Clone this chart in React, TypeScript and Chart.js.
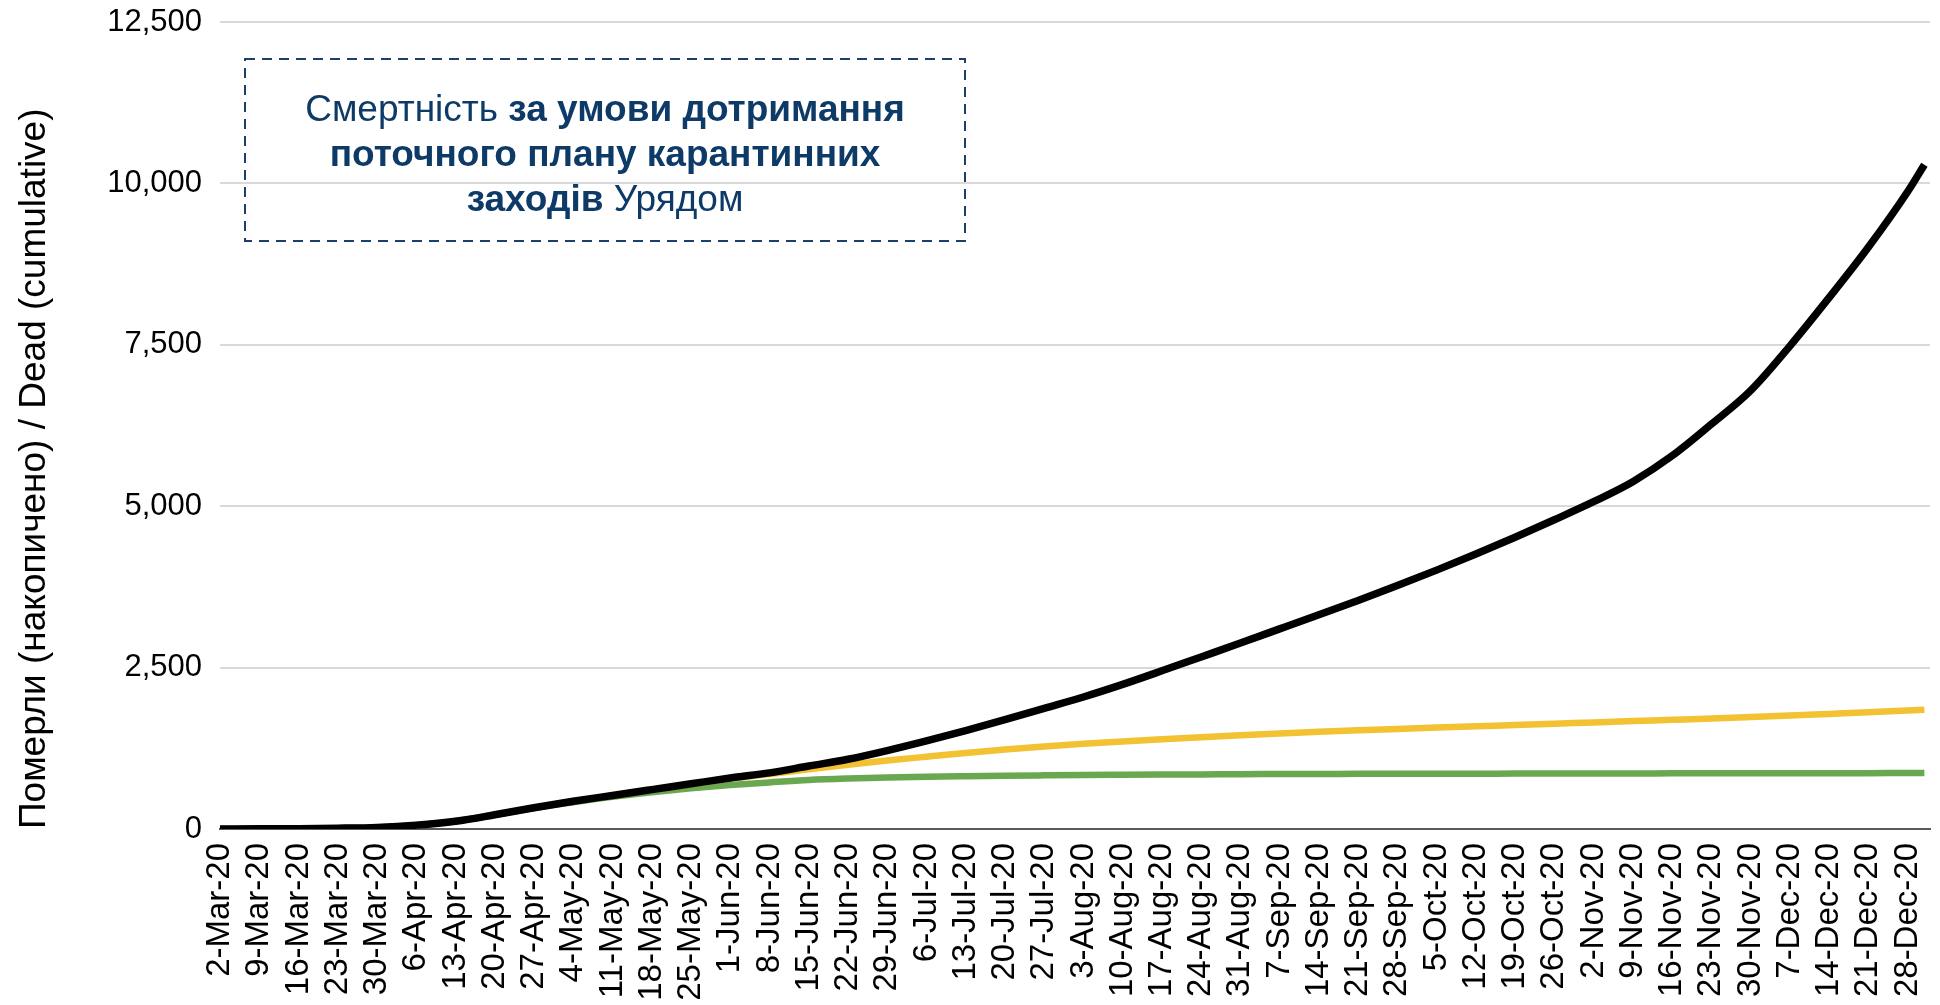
import React, { useEffect, useRef } from 'react';
import { Chart, registerables } from 'chart.js';

Chart.register(...registerables);

// ---- Data ----
const weekLabels = [
  '2-Mar-20', '9-Mar-20', '16-Mar-20', '23-Mar-20', '30-Mar-20',
  '6-Apr-20', '13-Apr-20', '20-Apr-20', '27-Apr-20',
  '4-May-20', '11-May-20', '18-May-20', '25-May-20',
  '1-Jun-20', '8-Jun-20', '15-Jun-20', '22-Jun-20', '29-Jun-20',
  '6-Jul-20', '13-Jul-20', '20-Jul-20', '27-Jul-20',
  '3-Aug-20', '10-Aug-20', '17-Aug-20', '24-Aug-20', '31-Aug-20',
  '7-Sep-20', '14-Sep-20', '21-Sep-20', '28-Sep-20',
  '5-Oct-20', '12-Oct-20', '19-Oct-20', '26-Oct-20',
  '2-Nov-20', '9-Nov-20', '16-Nov-20', '23-Nov-20', '30-Nov-20',
  '7-Dec-20', '14-Dec-20', '21-Dec-20', '28-Dec-20',
];

// Dates at which the series values were read (weekly, plus the last day)
const pointDates = [...weekLabels, '31-Dec-20'];

// Black: deaths if current government quarantine plan is kept
const currentPlanDeaths = [
  0, 2, 5, 12, 25, 60, 120, 220, 330, 430, 520, 610, 700,
  790, 870, 975, 1080, 1215, 1365, 1525, 1695, 1870, 2045, 2240, 2450,
  2665, 2880, 3100, 3320, 3540, 3770, 4010, 4260, 4520, 4790, 5070,
  5380, 5780, 6270, 6790, 7480, 8230, 9010, 9870, 10290,
];

// Yellow scenario
const yellowDeaths = [
  0, 2, 5, 12, 25, 60, 120, 220, 330, 430, 520, 610, 695,
  780, 850, 925, 995, 1060, 1120, 1178, 1230, 1278, 1320, 1357, 1391,
  1423, 1453, 1480, 1505, 1528, 1550, 1571, 1591, 1611, 1631, 1651,
  1671, 1691, 1711, 1734, 1758, 1783, 1808, 1834, 1848,
];

// Green scenario
const greenDeaths = [
  0, 2, 5, 12, 25, 60, 120, 220, 325, 415, 500, 570, 630,
  680, 722, 760, 783, 799, 810, 818, 825, 831, 836, 840, 843,
  846, 849, 851, 853, 854, 855, 856, 857, 858, 859, 860,
  861, 862, 863, 863, 864, 865, 865, 866, 866,
];

const yTickValues = [0, 2500, 5000, 7500, 10000, 12500];
const yAxisTitle = 'Померли (накопичено) / Dead (cumulative)';

const MONTHS: Record<string, number> = {
  Jan: 0, Feb: 1, Mar: 2, Apr: 3, May: 4, Jun: 5,
  Jul: 6, Aug: 7, Sep: 8, Oct: 9, Nov: 10, Dec: 11,
};

function dayIndex(label: string): number {
  const [d, m, y] = label.split('-');
  const t = Date.UTC(2000 + Number(y), MONTHS[m], Number(d));
  const t0 = Date.UTC(2020, 2, 2);
  return Math.round((t - t0) / 86400000);
}

const FONT = "'Liberation Sans', Arial, sans-serif";

const noteBoxPlugin = {
  id: 'noteBox',
  afterDraw(chart: any) {
    const ctx = chart.ctx;
    ctx.save();
    ctx.setLineDash([10, 7]);
    ctx.strokeStyle = '#1d3f6b';
    ctx.lineWidth = 2;
    ctx.strokeRect(245, 59, 720, 182);
    ctx.restore();
  },
};

export default function App() {
  const canvasRef = useRef<HTMLCanvasElement | null>(null);

  useEffect(() => {
    if (!canvasRef.current) return;
    const toPoints = (vals: number[]) =>
      vals.map((v, i) => ({ x: dayIndex(pointDates[i]), y: v }));
    const labelByDay: Record<number, string> = {};
    weekLabels.forEach((l) => { labelByDay[dayIndex(l)] = l; });
    const lastDay = dayIndex(pointDates[pointDates.length - 1]);

    const chart = new Chart(canvasRef.current, {
      type: 'line',
      data: {
        datasets: [
          {
            label: 'Current plan',
            data: toPoints(currentPlanDeaths),
            borderColor: '#000000',
            borderWidth: 7.5,
            pointRadius: 0,
            cubicInterpolationMode: 'monotone',
            borderJoinStyle: 'round',
            fill: false,
          },
          {
            label: 'Yellow',
            data: toPoints(yellowDeaths),
            borderColor: '#f2c233',
            borderWidth: 6.5,
            pointRadius: 0,
            cubicInterpolationMode: 'monotone',
            borderJoinStyle: 'round',
            fill: false,
          },
          {
            label: 'Green',
            data: toPoints(greenDeaths),
            borderColor: '#6aa84f',
            borderWidth: 6.5,
            pointRadius: 0,
            cubicInterpolationMode: 'monotone',
            borderJoinStyle: 'round',
            fill: false,
          },
        ],
      },
      options: {
        animation: false,
        responsive: true,
        maintainAspectRatio: false,
        layout: { padding: { left: 0, right: 10, top: 22, bottom: 0 } },
        plugins: {
          legend: { display: false },
          tooltip: { enabled: false },
        },
        scales: {
          x: {
            type: 'linear',
            min: 0,
            max: lastDay + 1,
            afterBuildTicks: (scale: any) => {
              scale.ticks = weekLabels.map((l) => ({ value: dayIndex(l) }));
            },
            afterFit: (scale: any) => {
              scale.height = 176;
              scale.paddingLeft = 0;
              scale.paddingRight = 0;
            },
            grid: { display: false, drawTicks: false },
            border: { display: true, color: '#5a5a5a', width: 2 },
            ticks: {
              autoSkip: false,
              maxRotation: 90,
              minRotation: 90,
              padding: 14,
              color: '#000000',
              font: { family: FONT, size: 33 },
              callback: (value: any) => labelByDay[Number(value)] ?? '',
            },
          },
          y: {
            type: 'linear',
            min: 0,
            max: 12500,
            afterBuildTicks: (scale: any) => {
              scale.ticks = yTickValues.map((v) => ({ value: v }));
            },
            afterFit: (scale: any) => {
              scale.width = 220;
              scale.paddingTop = 0;
              scale.paddingBottom = 0;
            },
            grid: { color: '#d9d9d9', lineWidth: 2, drawTicks: false },
            border: { display: false },
            ticks: {
              padding: 18,
              color: '#000000',
              font: { family: FONT, size: 31 },
              callback: (value: any) => Number(value).toLocaleString('en-US'),
            },
            title: {
              display: true,
              text: yAxisTitle,
              align: 'start',
              color: '#000000',
              font: { family: FONT, size: 37 },
              padding: { top: 13, bottom: 0 },
            },
          },
        },
      },
      plugins: [noteBoxPlugin],
    } as any);

    return () => chart.destroy();
  }, []);

  return (
    <div style={{ position: 'fixed', left: 0, top: 0, width: 1940, height: 1005, background: '#ffffff' }}>
      <canvas ref={canvasRef} />
      <div
        style={{
          position: 'absolute',
          left: 245,
          top: 59,
          width: 720,
          height: 182,
          boxSizing: 'border-box',
          paddingTop: 6,
          display: 'flex',
          alignItems: 'center',
          justifyContent: 'center',
          textAlign: 'center',
          color: '#0d3a66',
          fontFamily: FONT,
          fontSize: 37,
          lineHeight: '45px',
        }}
      >
        <div>
          Смертність <b>за умови дотримання</b>
          <br />
          <b>поточного плану карантинних</b>
          <br />
          <b>заходів</b> Урядом
        </div>
      </div>
    </div>
  );
}
